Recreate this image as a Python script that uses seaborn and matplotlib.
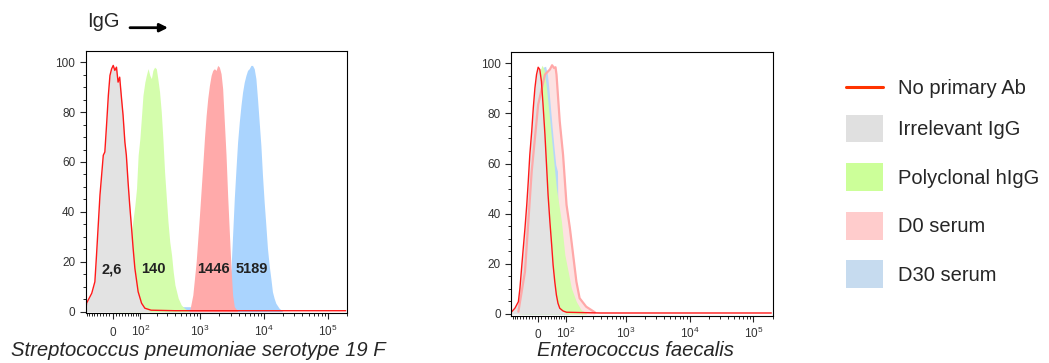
import matplotlib
matplotlib.use("Agg")
import matplotlib.pyplot as plt
import seaborn as sns
from matplotlib.lines import Line2D
from matplotlib.patches import Patch

sns.set_style("ticks")
plt.rcParams["font.family"] = ["Liberation Sans", "DejaVu Sans"]
plt.rcParams["mathtext.fontset"] = "custom"
plt.rcParams["mathtext.rm"] = "Liberation Sans"
plt.rcParams["mathtext.it"] = "Liberation Sans:italic"
plt.rcParams["mathtext.bf"] = "Liberation Sans:bold"
plt.rcParams["axes.edgecolor"] = "black"
plt.rcParams["axes.linewidth"] = 0.8

# ---- data (fluorescence, % of max) ----
# S. pneumoniae 19F panel
noprim_left_x = [-95, -92, -70, -58, -52, -40, -29, -24, -18, -13, -8, -3, 2, 7, 12, 17, 22, 28, 33,
                 39, 44, 50, 56, 63, 69, 76, 90, 106, 123, 160, 400, 2000, 20000, 191000]
noprim_left_y = [0.5, 3.4, 7.4, 12, 22.7, 46.7, 62.7, 64, 76, 86.7, 94.7, 97.3, 98.7, 96.7, 98, 92, 94,
                 85.4, 78.7, 68, 62.7, 52, 42.7, 33.4, 25.4, 17.4, 8, 3.4, 1.4, 0.6, 0.4, 0.4, 0.4, 0.4]
irr_left_x = [-95, -92, -70, -58, -52, -40, -29, -24, -18, -13, -8, -3, 2, 7, 12, 17, 22, 28, 33,
              39, 44, 50, 56, 63, 69, 76, 90, 106, 123, 160]
irr_left_y = [1, 3.4, 7.4, 12, 22.7, 46.7, 62.7, 64, 76, 86.7, 94.7, 97.3, 98.7, 96.7, 98, 92, 94,
              85.4, 78.7, 68, 62.7, 52, 42.7, 33.4, 25.4, 17.4, 8, 3.4, 1.4, 0]
poly_left_x = [2, 22, 33, 44, 56, 66, 76, 83, 90, 98, 106, 113, 123, 131, 141, 152, 162, 172, 184,
               197, 209, 224, 239, 254, 271, 290, 308, 329, 352, 374, 399, 450, 503, 567, 679]
poly_left_y = [0.3, 2, 6, 14, 25, 34.7, 42.7, 49.4, 62.7, 69.4, 78.7, 86.7, 92, 94.7, 97.4, 94.7,
               93.4, 96.7, 98, 97.4, 93.4, 88, 80, 69.4, 56, 45.4, 36, 28, 22.7, 16, 10.7, 5.4,
               2.7, 1.4, 0]
d0_left_x = [679, 766, 865, 975, 1098, 1167, 1241, 1314, 1397, 1486, 1574, 1673, 1778, 1883, 2002,
             2128, 2254, 2396, 2547, 2698, 2867, 3048, 3228, 3431, 3863]
d0_left_y = [0, 6.7, 20, 38.7, 58.7, 69.4, 78.7, 85.4, 90.7, 94.7, 96.7, 97.4, 96.7, 98.7, 98, 95.4,
             89.4, 76, 62.7, 46.7, 32, 17.4, 6.7, 2, 0.3]
d30_left_x = [271, 360, 480, 679, 975, 1397, 2002, 2547, 2867, 3048, 3228, 3431, 3648, 3863, 4106,
              4365, 4624, 4913, 5223, 5533, 5882, 6252, 6621, 7038, 7480, 7922, 8423, 8951, 9482,
              10077, 10710, 11348, 12062, 12820, 13580, 14433, 15343, 17272, 19440]
d30_left_y = [0.3, 1.5, 2, 2, 1.8, 2.5, 4, 6.7, 12, 17.4, 30.7, 45.4, 57.4, 68, 76, 82.7, 88, 92,
              94.7, 96.7, 97.4, 98.7, 98.7, 97.4, 93.4, 85.4, 76, 66.7, 54.7, 44, 34.7, 25.4, 18.7,
              13.4, 8, 5.4, 3.4, 1.4, 0.3]
mfi_labels = ["2,6", "140", "1446", "5189"]
mfi_x = [-3, 178, 1613, 6553]

# E. faecalis panel
noprim_right_x = [-94, -80, -66, -60, -54, -48, -42, -36, -31, -26, -20, -15, -10, -5, 0, 5, 10, 15,
                  21, 26, 31, 37, 43, 48, 54, 60, 66, 73, 87, 103, 400, 2000, 20000, 191000]
noprim_right_y = [0.9, 2.3, 4.9, 10.3, 18.2, 26.2, 34.2, 43.5, 52.9, 63.5, 72.8, 82.2, 90.1, 95.5,
                  98.4, 97.5, 92.8, 83.5, 71.5, 59.5, 47.5, 36.9, 27.6, 19.6, 12.9, 7.6, 4.3, 2.3,
                  1.2, 0.7, 0.4, 0.4, 0.4, 0.4]
irr_right_x = [-94, -80, -66, -60, -54, -48, -42, -36, -31, -26, -20, -15, -10, -5, 0, 5, 10, 15,
               21, 26, 31, 37, 43, 48, 54, 60, 66, 73, 87, 103]
irr_right_y = [0.9, 2.3, 4.9, 10.3, 18.2, 26.2, 34.2, 43.5, 52.9, 63.5, 72.8, 82.2, 90.1, 95.5,
               98.4, 97.5, 92.8, 83.5, 71.5, 59.5, 47.5, 36.9, 27.6, 19.6, 12.9, 7.6, 4.3, 2.3,
               1.2, 0]
poly_right_x = [-66, -42, -26, -10, 0, 5, 12, 18.5, 26, 37, 48, 60, 80, 95, 111, 128, 158, 192, 233]
poly_right_y = [0.9, 10.3, 36.9, 70.2, 90.1, 96.8, 99.2, 97.5, 90.1, 76.8, 63.5, 50.2, 36.9, 23.6,
                16.9, 10.3, 4.9, 1.6, 0.5]
d0_right_x = [-66, -42, -20, 0, 21, 37, 44.5, 51.5, 56.7, 60.4, 73, 87, 103, 120, 138, 158, 180,
              233, 322]
d0_right_y = [0.9, 16.9, 56.9, 83.5, 95.5, 97.5, 99.2, 98.1, 98.4, 95.5, 76.8, 63.5, 43.5, 34.2,
              23.6, 12.9, 6.3, 2.9, 0.7]
d30_right_x = [-54, -31, -10, 5, 15, 23, 29, 33.5, 40, 46, 51.5, 57.7, 64, 66.4, 73, 87, 111]
d30_right_y = [0.9, 23.6, 70.2, 92.8, 98.4, 98.8, 95.5, 90.1, 80.8, 72.8, 66.2, 59.5, 56.9, 36.9,
               16.9, 4.9, 0.9]

legend_labels = ["No primary Ab", "Irrelevant IgG", "Polyclonal hIgG", "D0 serum", "D30 serum"]
legend_colors = ["#ff3300", "#e0e0e0", "#ccff99", "#ffcccc", "#c6dbef"]

major_ticks = [0, 100, 1000, 10000, 100000]
major_labels = ["0", r"$10^2$", r"$10^3$", r"$10^4$", r"$10^5$"]
minor_ticks = ([-90, -80, -70, -60, -50, -40, -30, -20, -10, 10, 20, 30, 40, 50, 60, 70, 80, 90]
               + [m * d for d in (100, 1000, 10000) for m in range(2, 10)] + [200000])

W, H = 1049, 363
fig = plt.figure(figsize=(W / 100, H / 100), dpi=100)
ax1 = fig.add_axes([85.7 / W, 1 - 313.2 / H, 261.3 / W, 262.5 / H])
ax2 = fig.add_axes([511.3 / W, 1 - 315.5 / H, 261.3 / W, 263.8 / H])


def area(ax, x, y, face, edge=None, lw=1.0):
    ax.fill_between(x, y, 0, color=face, lw=0)
    if edge:
        sns.lineplot(x=x, y=y, ax=ax, color=edge, lw=lw, estimator=None)


# left panel (bottom to top)
area(ax1, d30_left_x, d30_left_y, "#aad4fe")
area(ax1, d0_left_x, d0_left_y, "#ffaaaa")
area(ax1, poly_left_x, poly_left_y, "#d4fdac")
area(ax1, irr_left_x, irr_left_y, "#e3e3e3")
sns.lineplot(x=noprim_left_x, y=noprim_left_y, ax=ax1, color="#ff1a1a", lw=1.0, estimator=None)
for lab, xv in zip(mfi_labels, mfi_x):
    ax1.text(xv, 17, lab, ha="center", va="center", fontsize=10.5, fontweight="bold", color="#222222")

# right panel
area(ax2, d0_right_x, d0_right_y, "#fde2e2", edge="#ffa8a8", lw=1.6)
area(ax2, d30_right_x, d30_right_y, "#b6d7f9")
area(ax2, poly_right_x, poly_right_y, "#d4fdac")
area(ax2, irr_right_x, irr_right_y, "#e3e3e3")
sns.lineplot(x=noprim_right_x, y=noprim_right_y, ax=ax2, color="#ff1a1a", lw=1.0, estimator=None)

for ax in (ax1, ax2):
    ax.set_xscale("asinh", linear_width=85)
    ax.set_xlim(-95.9, 191000)
    ax.set_ylim(-0.6, 104.6)
    ax.set_xticks(major_ticks, labels=major_labels)
    ax.set_xticks(minor_ticks, minor=True)
    ax.set_yticks([0, 20, 40, 60, 80, 100])
    ax.set_yticks(range(0, 105, 5), minor=True)
    ax.tick_params(which="major", length=4.5, width=0.8, labelsize=8.5, labelcolor="#333333")
    ax.tick_params(which="minor", length=2.5, width=0.7)
    ax.tick_params(axis="y", pad=3)
    ax.tick_params(axis="x", pad=12)
    for lbl in ax.get_xticklabels():
        lbl.set_va("baseline")
    ax.set_ylabel("")
    for s in ax.spines.values():
        s.set_visible(True)

ax1.set_xlabel("Streptococcus pneumoniae serotype 19 F", fontsize=14.6, fontstyle="italic")
ax1.xaxis.set_label_coords(0.43, -0.106)
ax2.set_xlabel("Enterococcus faecalis", fontsize=14.6, fontstyle="italic")
ax2.xaxis.set_label_coords(0.4734, -0.097)

fig.text(86.7 / W, 1 - 27 / H, "IgG", fontsize=14.5, va="baseline", ha="left")
ax1.annotate("", xy=(168 / W, 1 - 27.7 / H), xytext=(130 / W, 1 - 27.7 / H),
             xycoords="figure fraction", textcoords="figure fraction",
             arrowprops=dict(arrowstyle="-|>", lw=2, color="black", mutation_scale=12,
                             shrinkA=0, shrinkB=0))

# legend: the line entry and the four filled entries
line_handle = [Line2D([0], [0], color=legend_colors[0], lw=2.2)]
fig.legend(line_handle, legend_labels[:1], loc="center left", bbox_to_anchor=(846 / W, 1 - 89 / H),
           frameon=False, fontsize=14.5, handlelength=1.84, handletextpad=0.74,
           borderaxespad=0, borderpad=0)
patch_handles = [Patch(facecolor=c, edgecolor="none") for c in legend_colors[1:]]
fig.legend(patch_handles, legend_labels[1:], loc="upper left", bbox_to_anchor=(846 / W, 1 - 114.5 / H),
           frameon=False, fontsize=14.5, handlelength=1.84, handleheight=1.76, handletextpad=0.74,
           labelspacing=1.02, borderaxespad=0, borderpad=0)

fig.savefig("out.png", dpi=100)
